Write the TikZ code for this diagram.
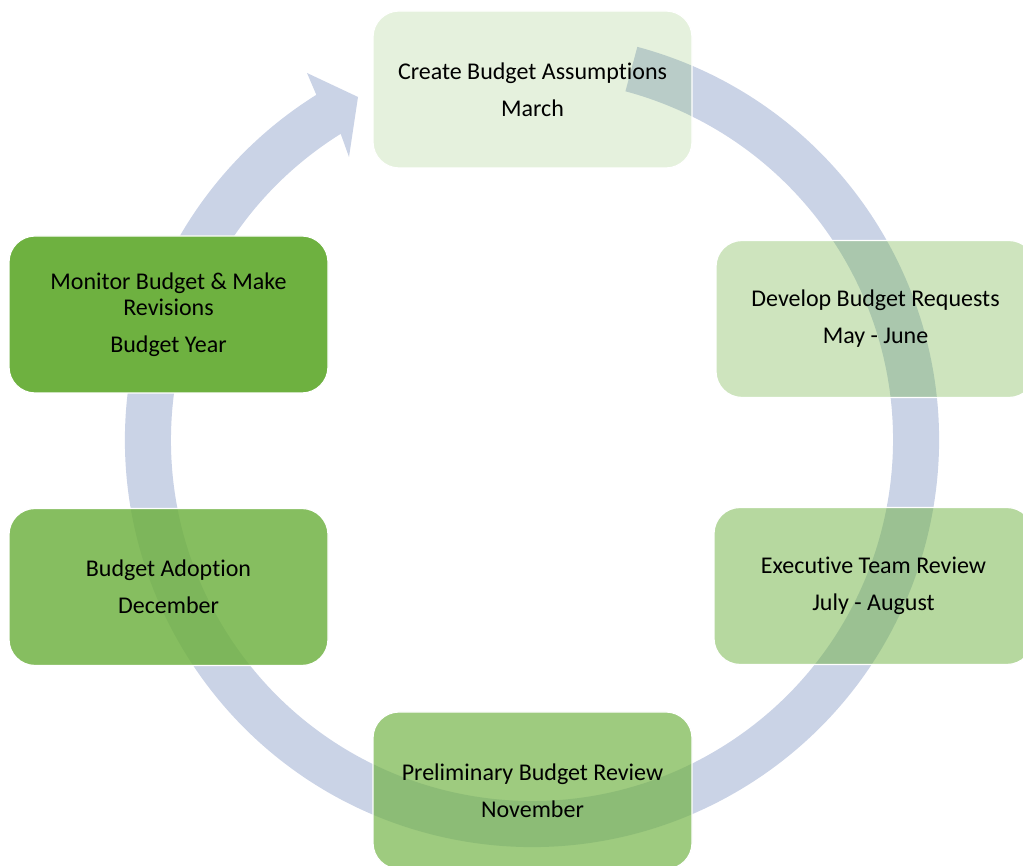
\documentclass[tikz,border=0pt]{standalone}
\usepackage{fontspec}
\setmainfont[Ligatures=NoCommon]{Carlito}
\definecolor{bandc}{RGB}{202,211,230}
\definecolor{boxg}{RGB}{110,177,64}
\begin{document}
\begin{tikzpicture}[x=1pt,y=1pt,
  stage/.style={rectangle, rounded corners=26pt, minimum width=319pt, minimum height=157pt,
    inner sep=0pt, fill=boxg, draw=white, line width=1.2pt, text=black, text opacity=1,
    align=center, font=\fontsize{24}{26}\selectfont}]
\useasboundingbox (0,0) rectangle (1023,866);
\clip (0,0) rectangle (1023,866);
% circular arrow band
\begin{scope}[shift={(532,426)}]
  \fill[bandc] (75:407) arc[start angle=75, end angle=-238, radius=407]
    -- (-225,367) -- (-174,343) -- (-183,283)
    -- (-238:361) arc[start angle=-238, end angle=75, radius=361] -- cycle;
\end{scope}
% stages
\node[stage, fill opacity=0.18] (b1) at (532.5,776.5) {Create Budget Assumptions\\[11pt]March};
\node[stage, fill opacity=0.34] (b2) at (875.5,547) {Develop Budget Requests\\[11pt]May - June};
\node[stage, fill opacity=0.50] (b3) at (873.5,280) {Executive Team Review\\[11pt]July - August};
\node[stage, fill opacity=0.67] (b4) at (532.5,75.5) {Preliminary Budget Review\\[11pt]November};
\node[stage, fill opacity=0.83] (b5) at (168.5,279) {Budget Adoption\\[11pt]December};
\node[stage, fill opacity=1] (b6) at (168.5,551.5) {Monitor Budget \& Make\\Revisions\\[11pt]Budget Year};
\end{tikzpicture}
\end{document}
